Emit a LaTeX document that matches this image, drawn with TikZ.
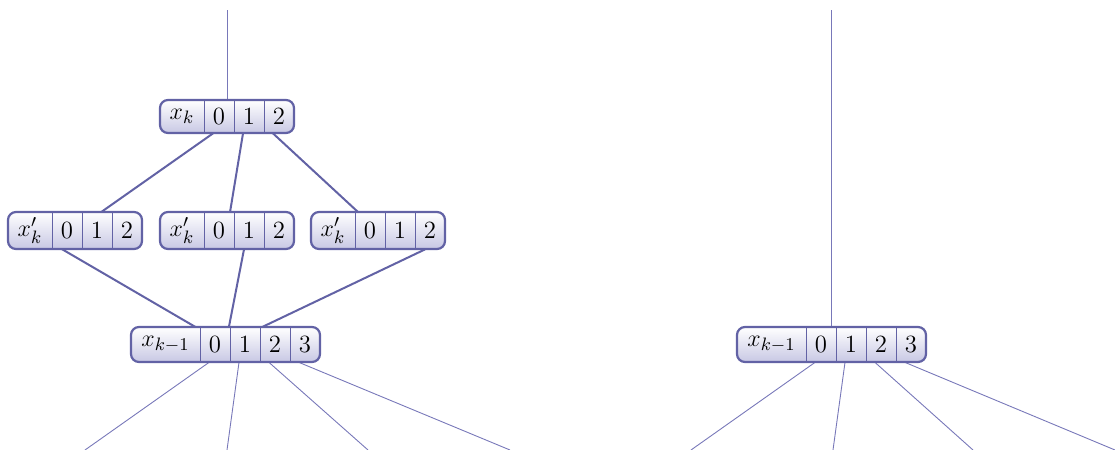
\documentclass[tikz,border=0pt]{standalone}
\usetikzlibrary{backgrounds}
\definecolor{bord}{RGB}{98,98,165}
\definecolor{shadebot}{RGB}{200,200,228}
\definecolor{thinc}{RGB}{120,120,185}
\tikzset{
  box/.style={draw=bord, line width=1.1pt, rounded corners=4pt, top color=white, bottom color=shadebot, inner sep=0pt},
  cell/.style={inner sep=0pt, font=\fontsize{12.4}{14}\selectfont},
  div/.style={draw=bord, line width=0.75pt},
  thick link/.style={draw=bord, line width=1pt},
  thin link/.style={draw=thinc, line width=0.45pt},
}
\begin{document}
\begin{tikzpicture}[x=0.5pt,y=-0.5pt]
\useasboundingbox (0,0) rectangle (1115,450);
% ---- top node x_k
\node[box, minimum width=67pt, minimum height=16.5pt] (top) at (227,116.5) {};
\node[cell, minimum width=22pt, minimum height=16.5pt] (tt) at (182,116.5) {$x_k$};
\node[cell, minimum width=15pt, minimum height=16.5pt] (t0) at (219,116.5) {0};
\node[cell, minimum width=15pt, minimum height=16.5pt] (t1) at (249,116.5) {1};
\node[cell, minimum width=15pt, minimum height=16.5pt] (t2) at (279,116.5) {2};
\foreach \c in {tt,t0,t1} \draw[div] (\c.north east) -- (\c.south east);
% ---- middle nodes x'_k
\node[box, minimum width=67pt, minimum height=18.5pt] (m1) at (75,230.5) {};
\node[cell, minimum width=22pt, minimum height=18.5pt] (m1t) at (30,230.5) {$x'_k$};
\node[cell, minimum width=15pt, minimum height=18.5pt] (m10) at (67,230.5) {0};
\node[cell, minimum width=15pt, minimum height=18.5pt] (m11) at (97,230.5) {1};
\node[cell, minimum width=15pt, minimum height=18.5pt] (m12) at (127,230.5) {2};
\node[box, minimum width=67pt, minimum height=18.5pt] (m2) at (227,230.5) {};
\node[cell, minimum width=22pt, minimum height=18.5pt] (m2t) at (182,230.5) {$x'_k$};
\node[cell, minimum width=15pt, minimum height=18.5pt] (m20) at (219,230.5) {0};
\node[cell, minimum width=15pt, minimum height=18.5pt] (m21) at (249,230.5) {1};
\node[cell, minimum width=15pt, minimum height=18.5pt] (m22) at (279,230.5) {2};
\node[box, minimum width=67pt, minimum height=18.5pt] (m3) at (378,230.5) {};
\node[cell, minimum width=22pt, minimum height=18.5pt] (m3t) at (333,230.5) {$x'_k$};
\node[cell, minimum width=15pt, minimum height=18.5pt] (m30) at (370,230.5) {0};
\node[cell, minimum width=15pt, minimum height=18.5pt] (m31) at (400,230.5) {1};
\node[cell, minimum width=15pt, minimum height=18.5pt] (m32) at (430,230.5) {2};
\foreach \c in {m1t,m10,m11,m2t,m20,m21,m3t,m30,m31} \draw[div] (\c.north east) -- (\c.south east);
% ---- bottom left x_{k-1}
\node[box, minimum width=94.5pt, minimum height=17.5pt] (bl) at (225.5,344.5) {};
\node[cell, minimum width=34.5pt, minimum height=17.5pt] (blt) at (165.5,344.5) {$x_{k-1}$};
\node[cell, minimum width=15pt, minimum height=17.5pt] (bl0) at (215,344.5) {0};
\node[cell, minimum width=15pt, minimum height=17.5pt] (bl1) at (245,344.5) {1};
\node[cell, minimum width=15pt, minimum height=17.5pt] (bl2) at (275,344.5) {2};
\node[cell, minimum width=15pt, minimum height=17.5pt] (bl3) at (305,344.5) {3};
% ---- bottom right x_{k-1}
\node[box, minimum width=94.5pt, minimum height=17.5pt] (br) at (831.5,344.5) {};
\node[cell, minimum width=34.5pt, minimum height=17.5pt] (brt) at (771.5,344.5) {$x_{k-1}$};
\node[cell, minimum width=15pt, minimum height=17.5pt] (br0) at (821,344.5) {0};
\node[cell, minimum width=15pt, minimum height=17.5pt] (br1) at (851,344.5) {1};
\node[cell, minimum width=15pt, minimum height=17.5pt] (br2) at (881,344.5) {2};
\node[cell, minimum width=15pt, minimum height=17.5pt] (br3) at (911,344.5) {3};
\foreach \c in {blt,bl0,bl1,bl2,brt,br0,br1,br2} \draw[div] (\c.north east) -- (\c.south east);
% ---- free ends
\coordinate (topin) at (227,10);
\coordinate (rin) at (831.5,10);
\coordinate (l0) at (85,450);
\coordinate (l1) at (227,450);
\coordinate (l2) at (368,450);
\coordinate (l3) at (510,450);
\coordinate (r0) at (691,450);
\coordinate (r1) at (833,450);
\coordinate (r2) at (973,450);
\coordinate (r3) at (1115,450);
% ---- connectors behind nodes
\begin{pgfonlayer}{background}
\draw[thin link] (topin) -- (top.north);
\draw[thin link] (rin) -- (br.north);
\draw[thick link] ([xshift=-3pt]t0.south) -- (m1.center);
\draw[thick link] ([xshift=-3pt]t1.south) -- (m2.center);
\draw[thick link] ([xshift=-3pt]t2.south) -- (m3.center);
\draw[thick link] (m1t.center) -- (bl.center);
\draw[thick link] ([xshift=-2.5pt]m21.south) -- (bl.center);
\draw[thick link] ([xshift=-2.5pt]m32.south) -- (bl.center);
\draw[thin link] ([xshift=-3pt]bl0.south) -- (l0);
\draw[thin link] ([xshift=-3pt]bl1.south) -- (l1);
\draw[thin link] ([xshift=-3pt]bl2.south) -- (l2);
\draw[thin link] ([xshift=-3pt]bl3.south) -- (l3);
\draw[thin link] ([xshift=-3pt]br0.south) -- (r0);
\draw[thin link] ([xshift=-3pt]br1.south) -- (r1);
\draw[thin link] ([xshift=-3pt]br2.south) -- (r2);
\draw[thin link] ([xshift=-3pt]br3.south) -- (r3);
\end{pgfonlayer}
\end{tikzpicture}
\end{document}
